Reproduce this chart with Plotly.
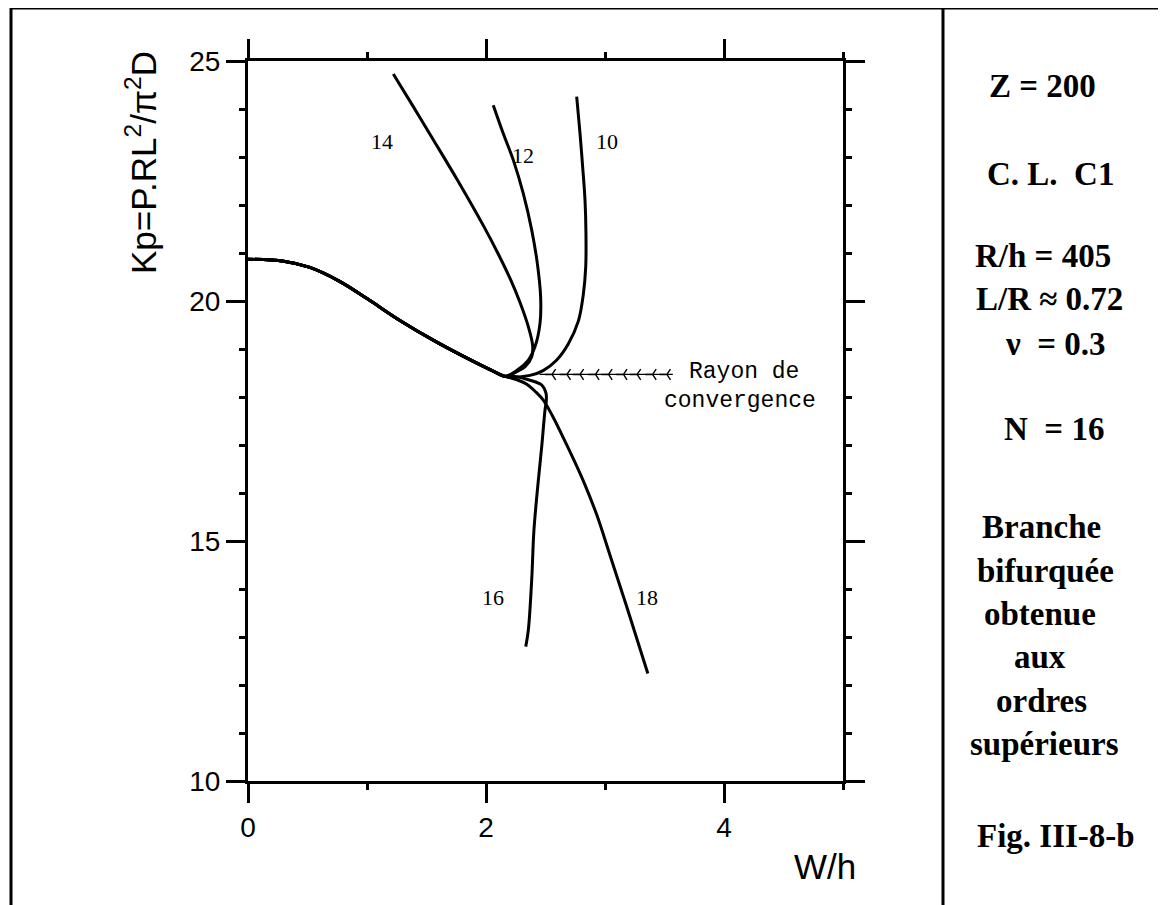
import plotly.graph_objects as go

# ---------------- data ----------------
# common part of the bifurcated branch (shared by every order)
common_w = [0.00, 0.30, 0.52, 0.77, 1.00, 1.28, 1.56, 1.84, 2.06, 2.16]
common_k = [20.87, 20.83, 20.70, 20.41, 20.05, 19.59, 19.18, 18.81, 18.54, 18.43]

tail10_w = [2.37, 2.48, 2.59, 2.69, 2.776, 2.818, 2.838, 2.84, 2.832, 2.812, 2.79, 2.762]
tail10_k = [18.45, 18.55, 18.76, 19.10, 19.58, 20.14, 20.71, 21.41, 22.10, 22.80, 23.49, 24.26]

tail12_w = [2.258, 2.356, 2.412, 2.454, 2.459, 2.431, 2.384, 2.313, 2.229, 2.145, 2.061]
tail12_k = [18.55, 18.77, 19.05, 19.54, 20.09, 20.79, 21.48, 22.24, 22.94, 23.49, 24.08]

tail14_w = [2.23, 2.328, 2.384, 2.392, 2.355, 2.286, 2.202, 2.103, 1.977, 1.767, 1.557, 1.389, 1.221]
tail14_k = [18.49, 18.63, 18.84, 19.07, 19.47, 19.97, 20.47, 20.98, 21.575, 22.49, 23.36, 24.05, 24.73]

tail16_w = [2.23, 2.37, 2.468, 2.504, 2.506, 2.496, 2.468, 2.44, 2.403, 2.384, 2.356, 2.334]
tail16_k = [18.43, 18.35, 18.25, 18.08, 17.90, 17.73, 16.96, 16.27, 15.23, 14.19, 13.15, 12.80]

tail18_w = [2.26, 2.34, 2.42, 2.48, 2.56, 2.65, 2.74, 2.83, 2.93, 3.04, 3.18, 3.36]
tail18_k = [18.36, 18.27, 18.10, 17.94, 17.60, 17.15, 16.68, 16.18, 15.55, 14.72, 13.65, 12.24]

orders = ["10", "12", "14", "16", "18"]
tails = {
    "10": (tail10_w, tail10_k),
    "12": (tail12_w, tail12_k),
    "14": (tail14_w, tail14_k),
    "16": (tail16_w, tail16_k),
    "18": (tail18_w, tail18_k),
}

# "Rayon de convergence" arrow
ray_k = 18.47
ray_w = [2.45, 3.57]
ray_heads_w = [2.555, 2.68, 2.79, 2.92, 3.03, 3.155, 3.27, 3.40, 3.52]

x_ticks = [0, 2, 4]
y_ticks = [10, 15, 20, 25]

# ---------------- layout constants (target pixels) ----------------
OFF = 8                       # page body margin
FIG_W, FIG_H = 1166 - OFF, 905 - OFF
L, R, T, B = 248 - OFF, 843 - OFF, 61 - OFF, 781 - OFF
PW, PH = R - L, B - T


def px_x(px):
    return (px - OFF - L) / PW


def px_y(py):
    return (B - (py - OFF)) / PH


fig = go.Figure()

for o in orders:
    tw, tk = tails[o]
    fig.add_trace(go.Scatter(
        x=common_w + tw, y=common_k + tk, mode="lines",
        line=dict(color="black", width=3, shape="spline", smoothing=1.0),
        name="ordre " + o, showlegend=False, hoverinfo="skip"))

fig.add_trace(go.Scatter(
    x=ray_w, y=[ray_k] * len(ray_w), mode="lines",
    line=dict(color="black", width=1.3), showlegend=False, hoverinfo="skip"))
fig.add_trace(go.Scatter(
    x=ray_heads_w, y=[ray_k] * len(ray_heads_w), mode="markers",
    marker=dict(symbol="y-left", size=9, color="black",
                line=dict(color="black", width=1.4)),
    showlegend=False, hoverinfo="skip"))

serif = "Liberation Serif"
sans = "Liberation Sans"
mono = "Liberation Mono"

ann = []
# curve labels (data coordinates)
label_pos = {"14": (1.13, 23.33), "12": (2.31, 23.04), "10": (3.02, 23.33),
             "16": (2.06, 13.83), "18": (3.35, 13.83)}
for o in orders:
    lx, ly = label_pos[o]
    ann.append(dict(x=lx, y=ly, xref="x", yref="y", text=o, showarrow=False,
                    xanchor="center", yanchor="middle",
                    font=dict(family=serif, size=22, color="black")))

ann.append(dict(x=px_x(687), y=px_y(372), xref="paper", yref="paper",
                text="Rayon de", showarrow=False, xanchor="left", yanchor="middle",
                font=dict(family=mono, size=23, color="black")))
ann.append(dict(x=px_x(662), y=px_y(401), xref="paper", yref="paper",
                text="convergence", showarrow=False, xanchor="left", yanchor="middle",
                font=dict(family=mono, size=23, color="black")))

# axis titles
ann.append(dict(x=px_x(141), y=px_y(163), xref="paper", yref="paper",
                text="Kp=P.RL<sup>2</sup>/π<sup>2</sup>D", textangle=-90,
                xanchor="center", yanchor="middle",
                showarrow=False, font=dict(family=sans, size=35, color="black")))
ann.append(dict(x=px_x(825), y=px_y(866), xref="paper", yref="paper",
                text="W/h", showarrow=False, xanchor="center", yanchor="middle",
                font=dict(family=sans, size=35, color="black")))

# right panel text (x centre px, baseline px)
panel = [
    ("Z = 200", 1042, 97),
    ("C. L.\u00a0\u00a0C1", 1050, 185),
    ("R/h = 405", 1043, 267),
    ("L/R ≈ 0.72", 1049, 310),
    ("ν\u00a0\u00a0= 0.3", 1055, 355),
    ("N\u00a0\u00a0= 16", 1054, 440),
    ("Branche", 1041, 538),
    ("bifurquée", 1045, 582),
    ("obtenue", 1040, 625),
    ("aux", 1040, 668),
    ("ordres", 1041, 712),
    ("supérieurs", 1044, 755),
    ("Fig. III-8-b", 1056, 847),
]
for txt, cx, base in panel:
    ann.append(dict(x=px_x(cx), y=px_y(base - 11), xref="paper", yref="paper",
                    text="<b>" + txt + "</b>", showarrow=False,
                    xanchor="center", yanchor="middle",
                    font=dict(family=serif, size=33, color="black")))

# frame lines
frame_left, frame_div, frame_right = px_x(11), px_x(943), px_x(1161)
frame_top, frame_bot = px_y(8), px_y(915)
shapes = [
    dict(type="line", xref="paper", yref="paper", x0=frame_left, x1=frame_right,
         y0=frame_top, y1=frame_top, line=dict(color="black", width=3)),
    dict(type="line", xref="paper", yref="paper", x0=frame_left, x1=frame_left,
         y0=frame_top, y1=frame_bot, line=dict(color="black", width=3)),
    dict(type="line", xref="paper", yref="paper", x0=frame_div, x1=frame_div,
         y0=frame_top, y1=frame_bot, line=dict(color="black", width=3)),
    dict(type="line", xref="paper", yref="paper", x0=frame_right, x1=frame_right,
         y0=frame_top, y1=frame_bot, line=dict(color="black", width=3)),
]

axis_common = dict(showline=True, linecolor="black", linewidth=3, mirror="allticks",
                   ticks="outside", ticklen=19, tickwidth=3, tickcolor="black",
                   showgrid=False, zeroline=False,
                   tickfont=dict(family=sans, size=28, color="black"))

fig.update_layout(
    width=FIG_W, height=FIG_H,
    margin=dict(l=L, r=FIG_W - R, t=T, b=FIG_H - B, pad=0),
    paper_bgcolor="white", plot_bgcolor="white",
    xaxis=dict(range=[0, 5], tickvals=x_ticks, ticktext=[str(v) for v in x_ticks],
               minor=dict(dtick=1, tick0=0, ticks="outside", ticklen=6, tickwidth=3,
                          tickcolor="black", showgrid=False),
               **axis_common),
    yaxis=dict(range=[10, 25], tickvals=y_ticks, ticktext=[str(v) for v in y_ticks],
               minor=dict(dtick=1, tick0=10, ticks="outside", ticklen=6, tickwidth=3,
                          tickcolor="black", showgrid=False),
               **axis_common),
    annotations=ann,
    shapes=shapes,
    showlegend=False,
)

fig.write_html("out.html")
